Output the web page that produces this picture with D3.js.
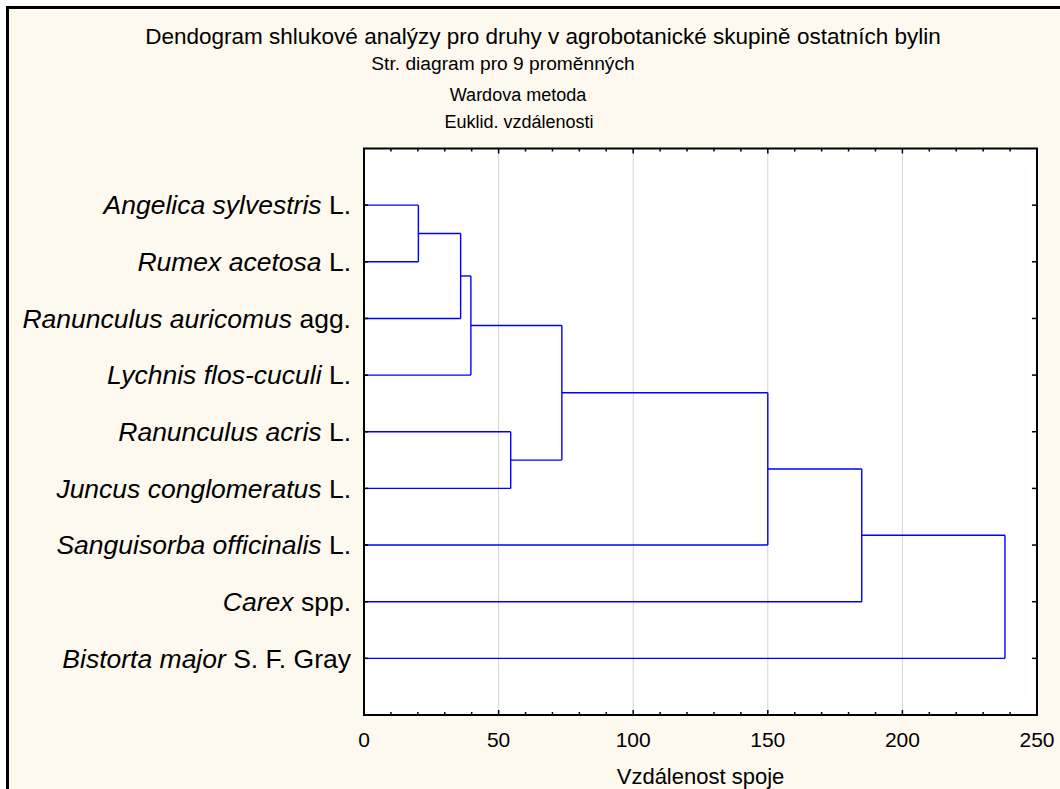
<!DOCTYPE html>
<html>
<head>
<meta charset="utf-8">
<script src="https://cdn.jsdelivr.net/npm/d3@7/dist/d3.min.js"></script>
<style>
  html, body { margin: 0; padding: 0; background: #ffffff; }
  svg { display: block; }
  text { font-family: Arial, "Liberation Sans", sans-serif; fill: #000; }
</style>
</head>
<body>
<svg id="chart" width="1060" height="789"></svg>
<script>
// Species (top to bottom), split into italic name and roman authority
const speciesNames = [
  "Angelica sylvestris", "Rumex acetosa", "Ranunculus auricomus",
  "Lychnis flos-cuculi", "Ranunculus acris", "Juncus conglomeratus",
  "Sanguisorba officinalis", "Carex", "Bistorta major"
];
const speciesAuthors = [" L.", " L.", " agg.", " L.", " L.", " L.", " L.", " spp.", " S. F. Gray"];

// Agglomeration steps: [left member, right member, linkage distance]
// Members are leaf indices (numbers) or earlier steps ("s0", "s1", ...)
const mergeLeft     = [0,    "s0", "s1", 4,    "s2", "s4", "s5", "s6"];
const mergeRight    = [1,    2,    3,    5,    "s3", 6,    7,    8];
const mergeDistance = [20.2, 35.9, 39.7, 54.5, 73.5, 150.0, 184.9, 238.1];

const xTicks = [0, 50, 100, 150, 200, 250];
const titleLines = [
  "Dendogram shlukové analýzy pro druhy v agrobotanické skupině ostatních bylin",
  "Str. diagram pro 9 proměnných",
  "Wardova metoda",
  "Euklid. vzdálenosti"
];
const xAxisTitle = "Vzdálenost spoje";

const svg = d3.select("#chart");
const W = 1060, H = 789;
const plot = { left: 364, right: 1037, top: 148.5, bottom: 715 };

// Page background and outer frame
svg.append("rect").attr("x", 0).attr("y", 0).attr("width", W).attr("height", H).attr("fill", "#ffffff");
svg.append("rect").attr("x", 7.5).attr("y", 7.5).attr("width", W + 20).attr("height", H + 20)
  .attr("fill", "#fdf9ef").attr("stroke", "#000").attr("stroke-width", 3);

// Titles
const titleX = [543, 503, 518, 519];
const titleY = [44, 70, 101, 128];
const titleSize = [22.5, 19.2, 18, 18];
svg.append("g").selectAll("text").data(titleLines).join("text")
  .attr("x", (d, i) => titleX[i]).attr("y", (d, i) => titleY[i])
  .attr("text-anchor", "middle").style("font-size", (d, i) => titleSize[i] + "px")
  .text(d => d);

// Scales
const x = d3.scaleLinear().domain([0, 250]).range([plot.left, plot.right]);
const y = d3.scaleLinear().domain([0, speciesNames.length + 1]).range([plot.top, plot.bottom]);

// Plot area
svg.append("rect").attr("x", plot.left).attr("y", plot.top)
  .attr("width", plot.right - plot.left).attr("height", plot.bottom - plot.top).attr("fill", "#fff");

// Vertical gridlines
svg.append("g").selectAll("line").data(xTicks.filter(t => t > 0 && t < 250)).join("line")
  .attr("x1", d => x(d)).attr("x2", d => x(d))
  .attr("y1", plot.top).attr("y2", plot.bottom)
  .attr("stroke", "#d4d4d4").attr("stroke-width", 1);

// Build the tree from the merge steps
const nodes = {};
speciesNames.forEach((n, i) => { nodes[i] = { leaf: i, height: 0, y: y(i + 1) }; });
mergeDistance.forEach((h, k) => {
  const a = nodes[mergeLeft[k]], b = nodes[mergeRight[k]];
  nodes["s" + k] = { children: [a, b], height: h, y: (a.y + b.y) / 2 };
});
const root = d3.hierarchy(nodes["s" + (mergeDistance.length - 1)]);

// Dendrogram links: vertical join at the parent's distance, horizontal arms to children
const g = svg.append("g").attr("fill", "none").attr("stroke", "#0000ff").attr("stroke-width", 1.4);
root.each(node => {
  if (!node.children) return;
  const px = x(node.data.height);
  const ys = node.children.map(c => c.data.y);
  g.append("line").attr("x1", px).attr("x2", px).attr("y1", d3.min(ys)).attr("y2", d3.max(ys));
  node.children.forEach(c => {
    g.append("line").attr("x1", x(c.data.height)).attr("x2", px)
      .attr("y1", c.data.y).attr("y2", c.data.y);
  });
});

// Axes (ticks pointing into the plot)
const minorTicks = d3.range(0, 251, 10);
const axisG = svg.append("g").attr("stroke", "#000");
const tickLen = d => (d % 50 === 0 ? 5 : 3);
axisG.selectAll("line.tt").data(minorTicks).join("line").attr("class", "tt")
  .attr("x1", d => x(d)).attr("x2", d => x(d))
  .attr("y1", plot.top).attr("y2", d => plot.top + tickLen(d)).attr("stroke-width", 1.5);
axisG.selectAll("line.bt").data(minorTicks).join("line").attr("class", "bt")
  .attr("x1", d => x(d)).attr("x2", d => x(d))
  .attr("y1", plot.bottom).attr("y2", d => plot.bottom - tickLen(d)).attr("stroke-width", 1.5);
const cats = d3.range(1, speciesNames.length + 1);
axisG.selectAll("line.lt").data(cats).join("line").attr("class", "lt")
  .attr("x1", plot.left).attr("x2", plot.left + 4)
  .attr("y1", d => y(d)).attr("y2", d => y(d)).attr("stroke-width", 1.5);
axisG.selectAll("line.rt").data(cats).join("line").attr("class", "rt")
  .attr("x1", plot.right).attr("x2", plot.right - 5)
  .attr("y1", d => y(d)).attr("y2", d => y(d)).attr("stroke-width", 1.5);
svg.append("rect").attr("x", plot.left).attr("y", plot.top)
  .attr("width", plot.right - plot.left).attr("height", plot.bottom - plot.top)
  .attr("fill", "none").attr("stroke", "#000").attr("stroke-width", 2);

// X tick labels
svg.append("g").selectAll("text").data(xTicks).join("text")
  .attr("x", d => x(d)).attr("y", 747).attr("text-anchor", "middle")
  .style("font-size", "21px").text(d => d);

// X axis title
svg.append("text").attr("x", (plot.left + plot.right) / 2).attr("y", 784)
  .attr("text-anchor", "middle").style("font-size", "22px").text(xAxisTitle);

// Species labels
const lab = svg.append("g").selectAll("text").data(speciesNames).join("text")
  .attr("x", plot.left - 13).attr("y", (d, i) => y(i + 1)).attr("dy", "0.35em")
  .attr("text-anchor", "end").style("font-size", "26.5px");
lab.append("tspan").style("font-style", "italic").text(d => d);
lab.append("tspan").text((d, i) => speciesAuthors[i]);
</script>
</body>
</html>
